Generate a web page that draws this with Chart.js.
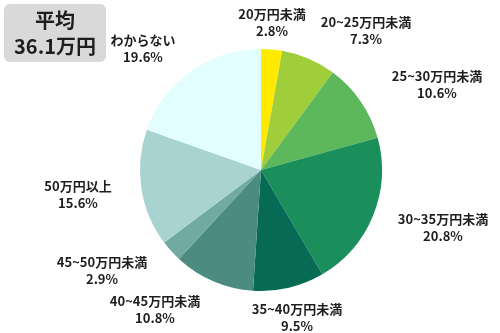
<!DOCTYPE html>
<html>
<head>
<meta charset="utf-8">
<script src="https://cdn.jsdelivr.net/npm/chart.js@4"></script>
<style>
  html, body { margin: 0; padding: 0; background: #fff; }
  #wrap { position: relative; width: 500px; height: 333px; }
  #avg {
    position: absolute; left: 4px; top: 4px; width: 102px; height: 58px;
    background: #d9d9d9; border-radius: 6px; text-align: center;
    font-family: "Noto Sans CJK JP", sans-serif; font-weight: bold; color: #1e1e1e;
    font-size: 20px; line-height: 26px; padding-top: 3px; box-sizing: border-box;
  }
</style>
</head>
<body>
<div id="wrap">
  <canvas id="myChart" width="500" height="333"></canvas>
  <div id="avg">平均<br>36.1万円</div>
</div>
<script>
// 月収の分布 (%)
const categories = ['20万円未満', '20~25万円未満', '25~30万円未満', '30~35万円未満', '35~40万円未満',
  '40~45万円未満', '45~50万円未満', '50万円以上', 'わからない'];
const shares = [2.8, 7.3, 10.6, 20.8, 9.5, 10.8, 2.9, 15.6, 19.6];
const sliceColors = ['#ffea00', '#a0cd3a', '#5cb85b', '#1a8f5c', '#066a55',
  '#4c8c80', '#70aaa3', '#a9d3d1', '#e3fefe'];

// label block centres, relative to pie centre (px)
const labelOffsets = [[11, -147], [105, -139], [176, -85], [182, 58], [36, 148],
  [-106, 140], [-159, 101], [-183, 25], [-118, -121]];

const outsideLabels = {
  id: 'outsideLabels',
  afterDatasetsDraw(chart) {
    const ctx = chart.ctx;
    const arcs = chart.getDatasetMeta(0).data;
    ctx.save();
    ctx.font = 'bold 13px "Noto Sans CJK JP", sans-serif';
    ctx.fillStyle = '#1e1e1e';
    ctx.textAlign = 'center';
    ctx.textBaseline = 'middle';
    arcs.forEach((arc, i) => {
      const cx = arc.x + labelOffsets[i][0];
      const cy = arc.y + labelOffsets[i][1];
      ctx.fillText(categories[i], cx, cy - 8.5);
      ctx.fillText(shares[i].toFixed(1) + '%', cx, cy + 8.5);
    });
    ctx.restore();
  }
};

new Chart(document.getElementById('myChart'), {
  type: 'pie',
  data: {
    labels: categories,
    datasets: [{
      data: shares,
      backgroundColor: sliceColors,
      borderWidth: 0
    }]
  },
  options: {
    responsive: false,
    animation: false,
    layout: { padding: { left: 140, right: 118, top: 49, bottom: 42 } },
    plugins: {
      legend: { display: false },
      tooltip: { enabled: false }
    }
  },
  plugins: [outsideLabels]
});
</script>
</body>
</html>
